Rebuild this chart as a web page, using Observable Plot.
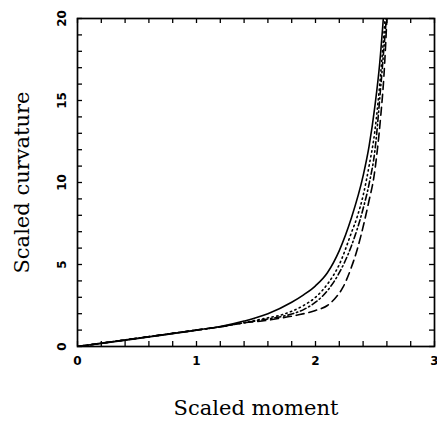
<!DOCTYPE html>
<html>
<head>
<meta charset="utf-8">
<script src="https://cdn.jsdelivr.net/npm/d3@7"></script>
<script src="https://cdn.jsdelivr.net/npm/@observablehq/plot@0.6"></script>
<style>
  html, body { margin: 0; padding: 0; background: #fff; }
</style>
</head>
<body>
<div id="chart"></div>
<script>
// Data
const solidX = [0, 1.0, 1.2, 1.4, 1.6, 1.8, 1.9, 2.0, 2.1, 2.2, 2.3, 2.4, 2.45, 2.5, 2.54, 2.57];
const solidY = [0, 1.0, 1.22, 1.55, 2.0, 2.7, 3.15, 3.7, 4.5, 5.85, 7.8, 10.4, 12.2, 14.7, 17.3, 20];

const dottedX = [0, 1.0, 1.2, 1.4, 1.6, 1.7, 1.8, 1.9, 2.0, 2.1, 2.2, 2.3, 2.35, 2.4, 2.45, 2.5, 2.54, 2.585];
const dottedY = [0, 1.0, 1.2, 1.45, 1.75, 1.9, 2.15, 2.5, 3.0, 3.8, 5.0, 6.9, 7.9, 9.2, 11.0, 13.2, 16.0, 20];

const dashDotX = [0, 1.0, 1.2, 1.4, 1.6, 1.8, 1.9, 2.0, 2.1, 2.2, 2.3, 2.4, 2.45, 2.5, 2.55, 2.595];
const dashDotY = [0, 1.0, 1.2, 1.45, 1.68, 1.98, 2.25, 2.7, 3.4, 4.5, 6.1, 8.4, 9.9, 12.0, 16.0, 20];

const dashedX = [0, 1.0, 1.2, 1.4, 1.55, 1.7, 1.85, 2.0, 2.1, 2.16, 2.23, 2.3, 2.35, 2.41, 2.45, 2.49, 2.52, 2.55, 2.575, 2.60];
const dashedY = [0, 1.0, 1.2, 1.45, 1.55, 1.72, 1.92, 2.2, 2.5, 2.9, 3.6, 4.8, 5.9, 7.6, 8.9, 10.3, 12.0, 14.2, 16.5, 20];

const xTickLabels = [0, 1, 2, 3];
const yTickLabels = [0, 5, 10, 15, 20];
const xMinorTicks = d3.range(0, 16).map(i => i / 5);
const yMinorTicks = d3.range(0, 21);

const xLabel = "Scaled moment";
const yLabel = "Scaled curvature";

const toRows = (xs, ys) => xs.map((x, i) => ({x, y: ys[i]}));

const series = [
  {rows: toRows(solidX, solidY), dash: null},
  {rows: toRows(dottedX, dottedY), dash: "1.3,3.5"},
  {rows: toRows(dashDotX, dashDotY), dash: "6,3,1.3,3"},
  {rows: toRows(dashedX, dashedY), dash: "8,5"}
];

const W = 437, H = 427;
const mT = 18, mR = 3, mB = 81, mL = 77;
const plotW = W - mL - mR, plotH = H - mT - mB;
const xDom = [0, 3], yDom = [0, 20];
const T = 5; // inward tick length in px
const tY = T / plotH * (yDom[1] - yDom[0]);
const tX = T / plotW * (xDom[1] - xDom[0]);

const tickStyle = {stroke: "#000", strokeWidth: 1.3};

const chart = Plot.plot({
  width: W,
  height: H,
  marginTop: mT,
  marginRight: mR,
  marginBottom: mB,
  marginLeft: mL,
  x: {domain: xDom, axis: null},
  y: {domain: yDom, axis: null},
  style: {background: "#fff", color: "#000", overflow: "visible"},
  marks: [
    // inward ticks on all four sides
    Plot.ruleX(xMinorTicks, {x: d => d, y1: yDom[0], y2: yDom[0] + tY, ...tickStyle}),
    Plot.ruleX(xMinorTicks, {x: d => d, y1: yDom[1] - tY, y2: yDom[1], ...tickStyle}),
    Plot.ruleY(yMinorTicks, {y: d => d, x1: xDom[0], x2: xDom[0] + tX, ...tickStyle}),
    Plot.ruleY(yMinorTicks, {y: d => d, x1: xDom[1] - tX, x2: xDom[1], ...tickStyle}),
    // tick labels
    Plot.text(xTickLabels, {x: d => d, frameAnchor: "bottom", dy: 18, textAnchor: "middle",
      text: d => String(d), fontSize: 12, fontWeight: "bold", fontFamily: "DejaVu Sans", fill: "#000"}),
    Plot.text(yTickLabels, {y: d => d, frameAnchor: "left", dx: -15, rotate: -90, textAnchor: "middle",
      text: d => String(d), fontSize: 12, fontWeight: "bold", fontFamily: "DejaVu Sans", fill: "#000"}),
    ...series.map(s => Plot.line(s.rows, {
      x: "x", y: "y", curve: "monotone-x", stroke: "#000", strokeWidth: 1.6,
      strokeDasharray: s.dash, clip: true
    })),
    Plot.frame({stroke: "#000", strokeWidth: 1.7}),
    Plot.text([xLabel], {frameAnchor: "bottom", dy: 68, fontSize: 21, fontFamily: "DejaVu Serif", fill: "#000"}),
    Plot.text([yLabel], {frameAnchor: "left", dx: -55, rotate: -90, textAnchor: "middle", fontSize: 21, fontFamily: "DejaVu Serif", fill: "#000"})
  ]
});

document.getElementById("chart").appendChild(chart);
</script>
</body>
</html>
